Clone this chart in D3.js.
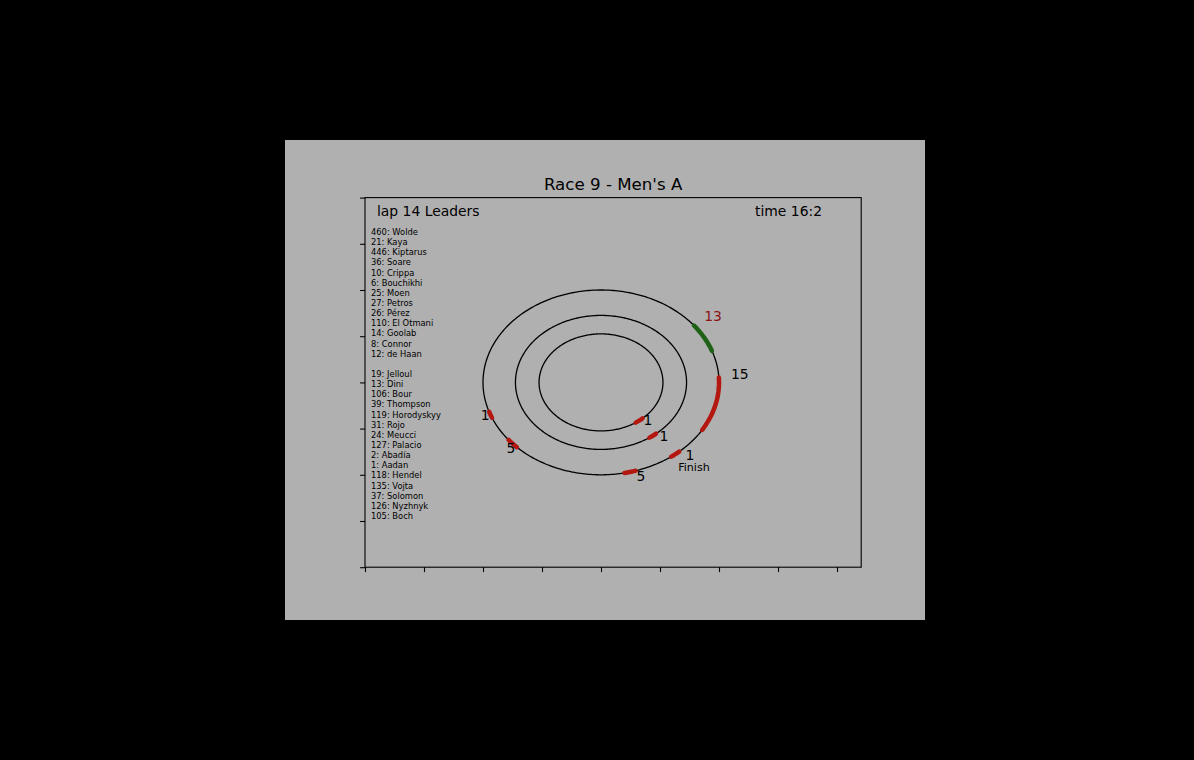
<!DOCTYPE html>
<html><head><meta charset="utf-8">
<script src="https://cdn.jsdelivr.net/npm/d3@7"></script>
<style>
html,body{margin:0;padding:0;background:#000;}
svg{display:block;font-family:"DejaVu Sans",sans-serif;}
</style></head>
<body>
<svg id="c" width="1194" height="760"></svg>
<script>
const title = "Race 9 - Men's A";
const lapText = "lap 14 Leaders";
const timeText = "time 16:2";
const leadersGroup1 = ["460: Wolde","21: Kaya","446: Kiptarus","36: Soare","10: Crippa","6: Bouchikhi","25: Moen","27: Petros","26: Pérez","110: El Otmani","14: Goolab","8: Connor","12: de Haan"];
const leadersGroup2 = ["19: Jelloul","13: Dini","106: Bour","39: Thompson","119: Horodyskyy","31: Rojo","24: Meucci","127: Palacio","2: Abadía","1: Aadan","118: Hendel","135: Vojta","37: Solomon","126: Nyzhnyk","105: Boch"];
const xTicks = [0,1,2,3,4,5,6,7,8];
const yTicks = [0,1,2,3,4,5,6,7,8];
const trackCenter = [4, 4];
const ringRadii = [2, 1.45, 1.05];
// groups on track: ring index, start angle, end angle (degrees), colour
const groupRing = [0, 0, 0, 0, 0, 0, 1, 2];
const groupStart = [20, -31, -53.5, -78.5, 198.5, 218.5, -55.5, -56];
const groupEnd = [38, 3, -48.5, -73, 202.5, 224.5, -50, -48];
const groupColor = ["#1f6217","#b3170f","#b3170f","#b3170f","#b3170f","#b3170f","#b3170f","#b3170f"];
// labels: text, angle (deg), radius, colour, size
const labelText = ["13","15","1","Finish","5","1","5","1","1"];
const labelAngle = [37.1, 4.2, -46.2, -49.6, -71.5, 200, 222.8, -47.2, -45.3];
const labelRadius = [2.38, 2.36, 2.18, 2.43, 2.13, 2.09, 2.08, 1.571, 1.132];
const labelColor = ["#8b1414","#000","#000","#000","#000","#000","#000","#000","#000"];
const labelSize = [13.9,13.9,13.9,11.1,13.9,13.9,13.9,13.9,13.9];

const svg = d3.select("#c");
const fig = {x:285, y:140, w:640, h:480};
svg.append("rect").attr("x",fig.x).attr("y",fig.y).attr("width",fig.w).attr("height",fig.h).attr("fill","#b0b0b0");
const ax = {l:365, r:861.2, t:197.6, b:567.2};
const x = d3.scaleLinear().domain([0,8.41]).range([ax.l, ax.r]);
const y = d3.scaleLinear().domain([0,8]).range([ax.b, ax.t]);

const g = svg.append("g");
// axes
const xAxis = d3.axisBottom(x).tickValues(xTicks).tickFormat("").tickSize(4.9).tickSizeOuter(0);
const yAxis = d3.axisLeft(y).tickValues(yTicks).tickFormat("").tickSize(4.9).tickSizeOuter(0);
g.append("g").attr("transform",`translate(0,${ax.b})`).call(xAxis).call(s=>{s.select(".domain").remove();s.selectAll("line").attr("stroke","#000").attr("stroke-width",1.1);});
g.append("g").attr("transform",`translate(${ax.l},0)`).call(yAxis).call(s=>{s.select(".domain").remove();s.selectAll("line").attr("stroke","#000").attr("stroke-width",1.1);});
g.append("rect").attr("x",ax.l).attr("y",ax.t).attr("width",ax.r-ax.l).attr("height",ax.b-ax.t).attr("fill","none").attr("stroke","#000").attr("stroke-width",1.1);

// rings
const line = d3.line().x(d=>x(d[0])).y(d=>y(d[1]));
function arcPts(r, a0, a1){
  const n = Math.max(8, Math.ceil(Math.abs(a1-a0)));
  return d3.range(n+1).map(i=>{const a=(a0+(a1-a0)*i/n)*Math.PI/180; return [trackCenter[0]+r*Math.cos(a), trackCenter[1]+r*Math.sin(a)];});
}
g.selectAll(".ring").data(ringRadii).join("path").attr("class","ring")
 .attr("d",r=>line(arcPts(r,0,360))).attr("fill","none").attr("stroke","#000").attr("stroke-width",1.3);

// groups
g.selectAll(".grp").data(groupRing.map((r,i)=>i)).join("path").attr("class","grp")
 .attr("d",i=>line(arcPts(ringRadii[groupRing[i]], groupStart[i], groupEnd[i])))
 .attr("fill","none").attr("stroke",i=>groupColor[i]).attr("stroke-width",4.5).attr("stroke-linecap","round");

// labels
g.selectAll(".lbl").data(labelText.map((t,i)=>i)).join("text").attr("class","lbl")
 .attr("x",i=>x(trackCenter[0]+labelRadius[i]*Math.cos(labelAngle[i]*Math.PI/180)))
 .attr("y",i=>y(trackCenter[1]+labelRadius[i]*Math.sin(labelAngle[i]*Math.PI/180)))
 .attr("text-anchor","middle").attr("dominant-baseline","central")
 .attr("font-size",i=>labelSize[i]).attr("fill",i=>labelColor[i]).text(i=>labelText[i]);

// title and header texts
svg.append("text").attr("x",(ax.l+ax.r)/2).attr("y",189.5).attr("text-anchor","middle").attr("font-size",16.67).attr("fill","#000").text(title);
svg.append("text").attr("x",377).attr("y",216).attr("font-size",13.9).attr("fill","#000").text(lapText);
svg.append("text").attr("x",755).attr("y",216).attr("font-size",13.9).attr("fill","#000").text(timeText);

// leaders list
const allLines = leadersGroup1.concat([""]).concat(leadersGroup2);
svg.selectAll(".ld").data(allLines).join("text").attr("class","ld")
 .attr("x",371).attr("y",(d,i)=>232+i*10.14).attr("dominant-baseline","central")
 .attr("font-size",8.33).attr("fill","#000").text(d=>d);
</script>
</body></html>
